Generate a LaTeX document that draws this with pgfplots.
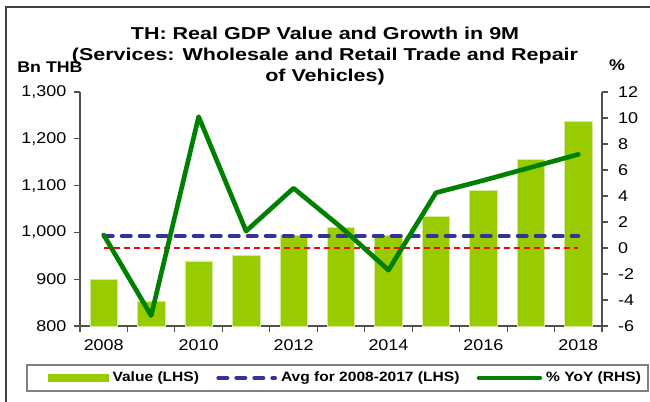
\documentclass[border=0pt]{standalone}
\usepackage{pgfplots}
\pgfplotsset{compat=1.18}
\usepackage{fontspec}
\setmainfont{Liberation Sans}[FakeStretch=1.15]
\newfontfamily\titlefont{Liberation Sans}[FakeStretch=1.25]
\definecolor{barg}{HTML}{99CC00}
\definecolor{lineg}{HTML}{008000}
\definecolor{avgb}{HTML}{333399}
\definecolor{axgray}{HTML}{505050}
\begin{document}
\begin{tikzpicture}
\useasboundingbox (0,0) rectangle (487.5pt,300.75pt);
\draw[draw=black!75, line width=1.2pt] (4.5pt,-5pt) -- (4.5pt,295.5pt) -- (495pt,295.5pt);
\draw[draw=gray, line width=1.1pt] (20.25pt,7.5pt) rectangle (486pt,27pt);
\node[font=\titlefont\bfseries\fontsize{12.9}{15.75}\selectfont, align=center] at (243.75pt,258.5pt)
  {TH: Real GDP Value and Growth in 9M\\(Services: Wholesale and Retail Trade and Repair\\of Vehicles)};
\node[font=\bfseries\fontsize{11.6}{14}\selectfont] at (37.5pt,250.5pt) {Bn THB};
\node[font=\bfseries\fontsize{11.6}{14}\selectfont] at (462.75pt,251.5pt) {\%};

\begin{axis}[
  at={(60pt,56.25pt)}, anchor=south west,
  width=391.5pt, height=175.5pt, scale only axis,
  xmin=2007.5, xmax=2018.5, ymin=800, ymax=1300,
  axis x line*=bottom, axis y line*=left,
  axis line style={-, draw=axgray, line width=0.8pt},
  xtick={2008,2010,2012,2014,2016,2018},
  xticklabels={2008,2010,2012,2014,2016,2018},
  major x tick style={draw=none},
  minor xtick={2007.5,2008.5,2009.5,2010.5,2011.5,2012.5,2013.5,2014.5,2015.5,2016.5,2017.5,2018.5},
  ytick={800,900,1000,1100,1200,1300},
  xtick align=outside, ytick align=outside,
  major tick length=4.5pt, minor tick length=4.5pt,
  tick style={draw=axgray, line width=0.8pt},
  /pgf/number format/assume math mode=true,
  /pgf/number format/1000 sep={,},
  tick label style={font=\fontsize{11.7}{14}\selectfont},
  yticklabel style={xshift=-2.25pt},
  xticklabel style={yshift=-2.25pt},
]
\addplot[ybar, bar width=0.58, bar shift=0pt, fill=barg, draw=white!60!barg, line width=0.4pt]
  coordinates {(2008,900) (2009,853) (2010,939) (2011,951) (2012,994) (2013,1011)
               (2014,993) (2015,1035) (2016,1089) (2017,1156) (2018,1238)};
\addplot[avgb, line width=3pt, dash pattern=on 6.75pt off 6.75pt, line cap=round]
  coordinates {(2008,992.1) (2018,992.1)};
\end{axis}

\begin{axis}[
  at={(60pt,56.25pt)}, anchor=south west,
  width=391.5pt, height=175.5pt, scale only axis,
  xmin=2007.5, xmax=2018.5, ymin=-6, ymax=12,
  axis y line*=right, axis x line=none,
  axis line style={-, draw=axgray, line width=0.8pt},
  ytick={-6,-4,-2,0,2,4,6,8,10,12},
  ytick align=outside, major tick length=4.5pt,
  tick style={draw=axgray, line width=0.8pt},
  /pgf/number format/assume math mode=true,
  tick label style={font=\fontsize{11.7}{14}\selectfont},
  yticklabel style={xshift=4pt},
  legend columns=3,
  legend style={draw=none, fill=none, inner sep=0pt, outer sep=0pt,
    at={(axis description cs:-0.0613,-0.2222)}, anchor=west,
    font=\bfseries\fontsize{10.15}{12}\selectfont,
    nodes={inner xsep=3pt, inner ysep=0pt},
    /tikz/every even column/.append style={column sep=10pt}},
]
\addlegendimage{legend image code/.code={\fill[barg] (0pt,-2.5pt) rectangle (45pt,2.5pt);}}
\addlegendentry{Value (LHS)}
\addlegendimage{legend image code/.code={\draw[avgb, line width=3pt, dash pattern=on 6.75pt off 6.75pt, line cap=round] (1.5pt,0pt) -- (44pt,0pt);}}
\addlegendentry{Avg for 2008-2017 (LHS)}
\addplot[red, line width=1.25pt, dash pattern=on 5pt off 2.5pt, forget plot]
  coordinates {(2008,0) (2018,0)};
\addplot[lineg, line width=3.5pt, line join=round, line cap=round,
  legend image code/.code={\draw[lineg, line width=3pt] (0pt,0pt) -- (46pt,0pt);}]
  coordinates {(2008,1.0) (2009,-5.2) (2010,10.1) (2011,1.3) (2012,4.6) (2013,1.6)
               (2014,-1.7) (2015,4.25) (2016,5.2) (2017,6.2) (2018,7.2)};
\addlegendentry{\% YoY (RHS)}
\end{axis}
\end{tikzpicture}
\end{document}
